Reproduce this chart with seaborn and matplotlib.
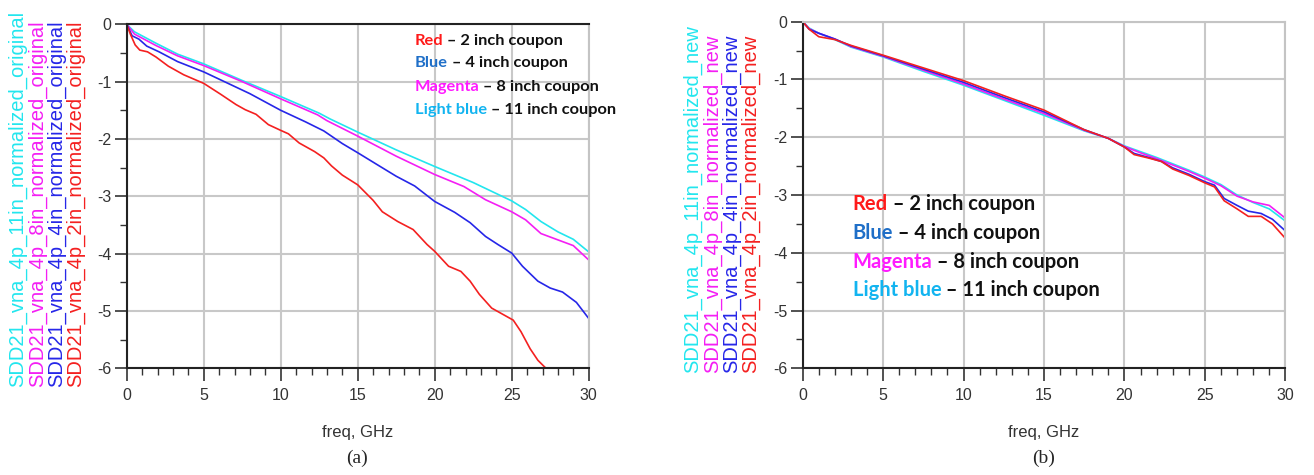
import numpy as np
import pandas as pd
import matplotlib
matplotlib.use('Agg')
import matplotlib.pyplot as plt
from matplotlib.ticker import MultipleLocator
import seaborn as sns

# ------------------------------------------------------------
# data (SDD21, dB vs freq, GHz)
# ------------------------------------------------------------

# (a) original normalization
red_a_f = [0, 0.25, 0.55, 0.85, 1.35, 1.9, 2.7, 3.7, 5.0, 6.1, 7.1, 7.7, 8.4, 9.2, 10.0, 10.5,
           11.2, 12.2, 12.8, 13.3, 14.0, 15.0, 16.0, 16.6, 17.6, 18.6, 19.5, 20.0, 20.9, 21.7,
           22.3, 22.9, 23.7, 24.5, 25.1, 25.6, 26.2, 26.7, 27.3]
red_a_v = [0, -0.18, -0.36, -0.45, -0.48, -0.57, -0.73, -0.88, -1.03, -1.22, -1.40, -1.49, -1.57,
           -1.75, -1.85, -1.91, -2.07, -2.22, -2.33, -2.47, -2.63, -2.80, -3.07, -3.27, -3.44,
           -3.58, -3.84, -3.96, -4.22, -4.31, -4.48, -4.71, -4.95, -5.07, -5.16, -5.36, -5.66,
           -5.86, -6.02]

blue_a_f = [0, 0.35, 0.8, 1.3, 2.1, 3.3, 5.0, 6.5, 8.0, 10.0, 11.6, 12.8, 14.0, 15.0, 16.4, 17.5,
            18.7, 20.0, 21.3, 22.3, 23.3, 24.1, 25.0, 25.7, 26.7, 27.5, 28.3, 29.2, 30.0]
blue_a_v = [0, -0.20, -0.26, -0.38, -0.48, -0.65, -0.83, -1.02, -1.21, -1.50, -1.70, -1.86, -2.08,
            -2.24, -2.47, -2.65, -2.82, -3.09, -3.28, -3.46, -3.70, -3.84, -3.99, -4.22, -4.48,
            -4.60, -4.67, -4.85, -5.13]

magenta_a_f = [0, 0.5, 1.9, 3.3, 5.0, 7.5, 10.0, 12.4, 13.0, 15.0, 17.5, 20.0, 21.9, 23.3, 25.0,
               25.9, 26.9, 28.0, 29.0, 30.0]
magenta_a_v = [0, -0.17, -0.37, -0.55, -0.72, -1.00, -1.30, -1.58, -1.68, -1.95, -2.30, -2.62,
               -2.83, -3.06, -3.27, -3.41, -3.65, -3.76, -3.86, -4.11]

cyan_a_f = [0, 0.5, 1.9, 3.3, 5.0, 7.5, 10.0, 12.5, 13.2, 15.0, 17.5, 20.0, 22.5, 25.0, 25.9,
            26.9, 28.0, 29.0, 30.0]
cyan_a_v = [0, -0.13, -0.33, -0.52, -0.69, -0.98, -1.26, -1.55, -1.65, -1.88, -2.19, -2.48,
            -2.76, -3.08, -3.23, -3.44, -3.62, -3.75, -3.97]

# (b) new normalization
red_b_f = [0, 0.4, 1.0, 2.0, 3.0, 5.0, 7.5, 10.0, 12.5, 15.0, 17.5, 19.0, 20.0, 20.6, 21.5, 22.3,
           23.0, 24.0, 25.0, 25.6, 26.2, 27.0, 27.7, 28.5, 29.2, 30.0]
red_b_v = [0, -0.13, -0.26, -0.31, -0.41, -0.58, -0.80, -1.02, -1.28, -1.53, -1.87, -2.02, -2.17,
           -2.30, -2.36, -2.42, -2.55, -2.66, -2.79, -2.86, -3.10, -3.24, -3.37, -3.37, -3.50,
           -3.75]

blue_b_f = red_b_f
blue_b_v = [0, -0.13, -0.20, -0.30, -0.42, -0.59, -0.82, -1.05, -1.31, -1.56, -1.87, -2.02, -2.17,
            -2.28, -2.35, -2.42, -2.53, -2.64, -2.77, -2.83, -3.06, -3.18, -3.28, -3.32, -3.42,
            -3.62]

magenta_b_f = [0, 0.4, 1, 2, 3, 5, 7.5, 10, 12.5, 15, 17.5, 19, 20, 21, 22, 23, 24, 25, 26, 27,
               28, 29, 30]
magenta_b_v = [0, -0.12, -0.20, -0.30, -0.43, -0.60, -0.84, -1.08, -1.34, -1.59, -1.88, -2.02,
               -2.16, -2.27, -2.37, -2.48, -2.59, -2.71, -2.84, -3.02, -3.12, -3.18, -3.40]

cyan_b_f = magenta_b_f
cyan_b_v = [0, -0.11, -0.20, -0.31, -0.44, -0.61, -0.86, -1.10, -1.36, -1.62, -1.89, -2.02, -2.15,
            -2.25, -2.35, -2.46, -2.57, -2.69, -2.82, -3.00, -3.13, -3.24, -3.45]

trace_names_a = ['SDD21_vna_4p_11in_normalized_original',
                 'SDD21_vna_4p_8in_normalized_original',
                 'SDD21_vna_4p_4in_normalized_original',
                 'SDD21_vna_4p_2in_normalized_original']
trace_names_b = ['SDD21_vna_4p_11in_normalized_new',
                 'SDD21_vna_4p_8in_normalized_new',
                 'SDD21_vna_4p_4in_normalized_new',
                 'SDD21_vna_4p_2in_normalized_new']

legend_words = ['Red', 'Blue', 'Magenta', 'Light blue']
legend_rest = [' – 2 inch coupon', ' – 4 inch coupon', ' – 8 inch coupon', ' – 11 inch coupon']

# colours: cyan, magenta, blue, red (order of the y label stack)
line_colors = ['#22E6EE', '#F41EF4', '#2626E8', '#F42020']
word_colors = ['#FF1A1A', '#1F6FC8', '#FF1AFF', '#12B4F0']


def long_df(names, fs, vs):
    parts = []
    for n, f, v in zip(names, fs, vs):
        parts.append(pd.DataFrame({'freq': f, 'sdd21': v, 'trace': n}))
    return pd.concat(parts, ignore_index=True)


df_a = long_df(trace_names_a,
               [cyan_a_f, magenta_a_f, blue_a_f, red_a_f],
               [cyan_a_v, magenta_a_v, blue_a_v, red_a_v])
df_b = long_df(trace_names_b,
               [cyan_b_f, magenta_b_f, blue_b_f, red_b_f],
               [cyan_b_v, magenta_b_v, blue_b_v, red_b_v])

# ------------------------------------------------------------
# figure
# ------------------------------------------------------------
sns.set_style('white')
plt.rcParams['font.family'] = ['Liberation Sans', 'DejaVu Sans']
plt.rcParams['axes.unicode_minus'] = False

W, H = 1314, 475
fig = plt.figure(figsize=(W / 100, H / 100), dpi=100)


def px_axes(x0, y0, x1, y1):
    return fig.add_axes([x0 / W, 1 - y1 / H, (x1 - x0) / W, (y1 - y0) / H])


ax_a = px_axes(126.7, 24.3, 588.7, 368.3)
ax_b = px_axes(802.7, 21.7, 1285.3, 368.3)

panels = [
    (ax_a, df_a, trace_names_a, '#222222'),
    (ax_b, df_b, trace_names_b, '#c4c4c4'),
]

for ax, df, names, top_col in panels:
    sns.lineplot(data=df, x='freq', y='sdd21', hue='trace', hue_order=names,
                 palette=dict(zip(names, line_colors)), estimator=None, sort=False,
                 linewidth=1.2, legend=False, ax=ax)
    ax.set_xlim(0, 30)
    ax.set_ylim(-6, 0)
    ax.xaxis.set_major_locator(MultipleLocator(5))
    ax.xaxis.set_minor_locator(MultipleLocator(1))
    ax.yaxis.set_major_locator(MultipleLocator(1))
    ax.yaxis.set_minor_locator(MultipleLocator(0.5))
    ax.grid(True, which='major', color='#c8c8c8', linewidth=1.5)
    ax.set_axisbelow(True)
    ax.tick_params(which='major', direction='out', length=9, width=1.2, color='#333333',
                   labelsize=11.5, labelcolor='#333333', pad=2, left=True, bottom=True)
    ax.tick_params(axis='x', which='major', pad=5)
    ax.tick_params(which='minor', direction='out', length=5, width=1.0, color='#333333',
                   left=True, bottom=True)
    for s in ['left', 'bottom']:
        ax.spines[s].set_color('#222222')
        ax.spines[s].set_linewidth(1.5)
    ax.spines['top'].set_color(top_col)
    ax.spines['top'].set_linewidth(1.5)
    ax.spines['right'].set_color('#c4c4c4')
    ax.spines['right'].set_linewidth(1.5)
    ax.set_ylabel('')
    ax.set_xlabel('freq, GHz', fontsize=12, color='#333333')
    ax.xaxis.set_label_coords(0.5, -0.165)

# stacked, coloured y labels
label_x_a = [18, 38, 57, 76]
label_x_b = [693, 713, 732, 751]
for xs, bottom, names in [(label_x_a, 387, trace_names_a), (label_x_b, 373, trace_names_b)]:
    for x, name, c in zip(xs, names, line_colors):
        fig.text(x / W, 1 - bottom / H, name, rotation=90, ha='center', va='bottom',
                 fontsize=14.5, color=c)

# in-plot colour key
legend_pos = [
    (ax_a, 18.7, [-0.29, -0.68, -1.09, -1.50], 11.8),
    (ax_b, 3.1, [-3.16, -3.66, -4.16, -4.64], 14.5),
]
for ax, x, ys, fs in legend_pos:
    for y, word, rest, c in zip(ys, legend_words, legend_rest, word_colors):
        t = ax.text(x, y, word, color=c, fontsize=fs, fontweight='bold', family='Lato',
                    ha='left', va='center')
        ax.annotate(rest, xy=(1, 0), xycoords=t, ha='left', va='bottom', color='#111111',
                    fontsize=fs, fontweight='bold', family='Lato')

# panel captions
fig.text(357 / W, 1 - 458 / H, '(a)', family='Liberation Serif', fontsize=14,
         ha='center', va='center')
fig.text(1044 / W, 1 - 458 / H, '(b)', family='Liberation Serif', fontsize=14,
         ha='center', va='center')

fig.savefig('out.png', dpi=100)
